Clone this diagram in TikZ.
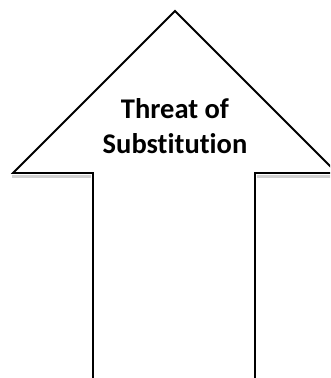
\documentclass[tikz,border=0pt]{standalone}
\usepackage{fontspec}
\setmainfont[Ligatures=NoCommon]{Carlito}
\begin{document}
\begin{tikzpicture}[x=1pt,y=1pt,
  outline/.style={draw=black,line width=1.8pt,line join=miter},
  shadowline/.style={draw=black!18,line width=3pt},
  label/.style={font=\fontsize{28.5}{35}\selectfont\bfseries,align=center,inner sep=0pt}]
\useasboundingbox (0,0) rectangle (330,378);
\clip (0,0) rectangle (330,378);
\coordinate (sl) at (93,-5);
\coordinate (bl) at (93,205);
\coordinate (cl) at (13,205);
\coordinate (tip) at (175,367);
\coordinate (cr) at (337,205);
\coordinate (br) at (255,205);
\coordinate (sr) at (255,-5);
\draw[shadowline] (12,201.5) -- (91,201.5);
\draw[shadowline] (257,201.5) -- (335,201.5);
\draw[outline] (sl) -- (bl) -- (cl) -- (tip) -- (cr) -- (br) -- (sr);
\node[label,anchor=base] (t1) at (175,259) {Threat of};
\node[label,anchor=base] (t2) at (175,224) {Substitution};
\end{tikzpicture}
\end{document}
